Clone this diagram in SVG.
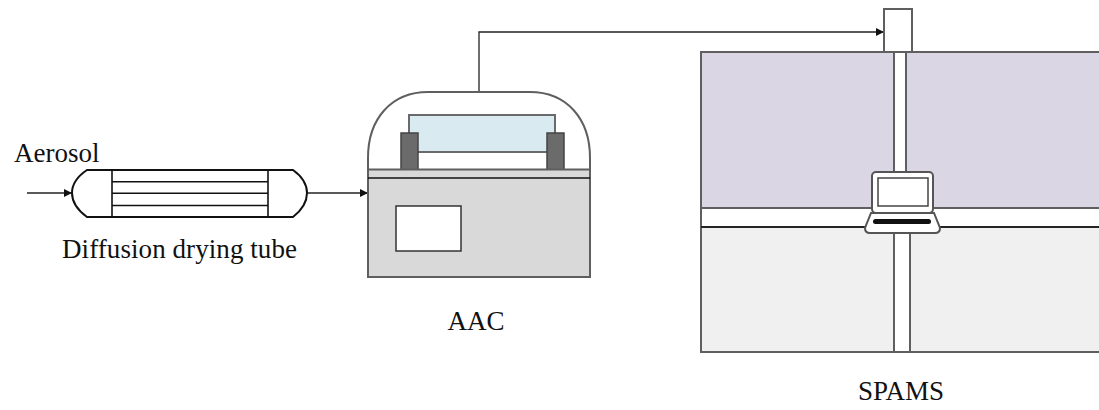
<svg xmlns="http://www.w3.org/2000/svg" width="1099" height="410" viewBox="0 0 1099 410">
  <style>
    .lbl { font-family: "Liberation Serif", "Times New Roman", serif; font-size: 27px; fill: #111; }
    .wire { fill: none; stroke: #222; stroke-width: 1.3; }
    .edge { stroke: #5f5f5f; stroke-width: 2; }
    .thin { fill: none; stroke: #111; stroke-width: 1.6; }
  </style>
  <defs>
    <marker id="arrow" viewBox="0 0 10 10" refX="10" refY="5" markerWidth="8" markerHeight="8" markerUnits="userSpaceOnUse" orient="auto">
      <path d="M0,0 L10,5 L0,10 z" fill="#111"/>
    </marker>
  </defs>

  <rect width="1099" height="410" fill="#ffffff"/>

  <!-- flow connectors -->
  <g id="connectors">
    <line class="wire" x1="27" y1="193" x2="72" y2="193" marker-end="url(#arrow)"/>
    <line class="wire" x1="307" y1="193" x2="368" y2="193" marker-end="url(#arrow)"/>
    <polyline class="wire" points="479,92 479,32 884,32" marker-end="url(#arrow)"/>
  </g>

  <!-- diffusion drying tube -->
  <g id="dryer">
    <path d="M87,170 L293,170 Q307,180 307,193 Q307,206 293,217 L87,217 Q72,206 72,193 Q72,180 87,170 Z" fill="#fff" stroke="#111" stroke-width="2"/>
    <line class="thin" x1="112" y1="170" x2="112" y2="217"/>
    <line class="thin" x1="268" y1="170" x2="268" y2="217"/>
    <line class="thin" x1="112" y1="181.7" x2="268" y2="181.7"/>
    <line class="thin" x1="112" y1="193.3" x2="268" y2="193.3"/>
    <line class="thin" x1="112" y1="205.5" x2="268" y2="205.5"/>
    <text class="lbl" x="14" y="162">Aerosol</text>
    <text class="lbl" x="62" y="258" textLength="235">Diffusion drying tube</text>
  </g>

  <!-- AAC -->
  <g id="aac">
    <path d="M368,170 L368,158 C368,118 392,92 428,92 L530,92 C566,92 590,118 590,158 L590,170" fill="#fff" stroke="#5f5f5f" stroke-width="2"/>
    <rect x="409" y="115" width="146" height="37" fill="#daeaf1" stroke="#6a6a6a" stroke-width="2"/>
    <rect x="401" y="133" width="17" height="37" fill="#6b6b6b" stroke="#444" stroke-width="1.5"/>
    <rect x="547" y="133" width="17" height="37" fill="#6b6b6b" stroke="#444" stroke-width="1.5"/>
    <rect x="368" y="169.5" width="222" height="107.5" fill="#d9d9d9" stroke="#5f5f5f" stroke-width="2"/>
    <line x1="368" y1="178" x2="590" y2="178" stroke="#111" stroke-width="1.5"/>
    <rect x="396" y="206" width="65" height="45" fill="#fff" stroke="#333" stroke-width="1.5"/>
    <text class="lbl" x="476" y="330" text-anchor="middle">AAC</text>
  </g>

  <!-- SPAMS -->
  <g id="spams">
    <rect x="884" y="9" width="28" height="43" fill="#fff" stroke="#5f5f5f" stroke-width="2"/>
    <rect x="701" y="52" width="410" height="156" fill="#dbd6e3" class="edge"/>
    <rect x="701" y="208" width="410" height="19" fill="#ffffff" class="edge"/>
    <rect x="701" y="227" width="410" height="125" fill="#f0f0f0" class="edge"/>
    <line x1="701" y1="227" x2="1099" y2="227" stroke="#111" stroke-width="1.6"/>
    <rect x="894" y="52" width="12" height="156" fill="#fff" class="edge"/>
    <rect x="894" y="227" width="16" height="125" fill="#fff" class="edge"/>
    <rect x="894.5" y="207" width="11" height="21" fill="#fff"/>
    <text class="lbl" x="858" y="400">SPAMS</text>
  </g>

  <!-- laptop -->
  <g id="laptop">
    <rect x="872" y="172" width="61" height="41" rx="4" fill="#fff" stroke="#555" stroke-width="2"/>
    <rect x="878" y="178" width="50" height="28" fill="#fff" stroke="#444" stroke-width="1.5"/>
    <path d="M871,213 L934,213 L940,228 Q940,233 935,233 L870,233 Q865,233 865,228 Z" fill="#fff" stroke="#555" stroke-width="2"/>
    <rect x="873" y="219" width="58" height="5" rx="2.5" fill="#111"/>
  </g>
</svg>
